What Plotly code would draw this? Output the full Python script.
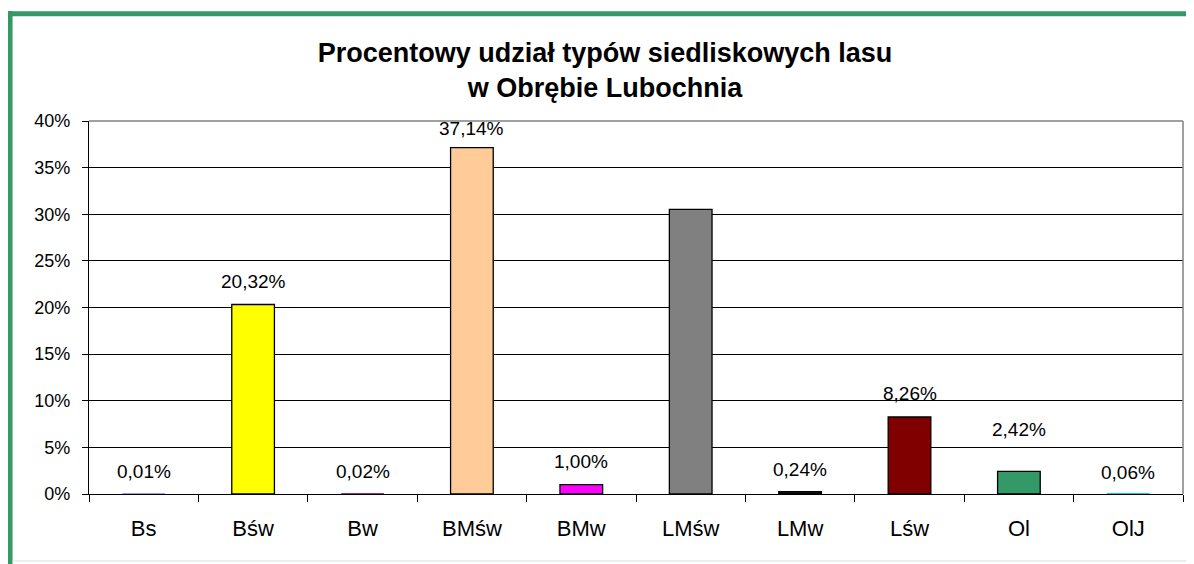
import plotly.graph_objects as go

categories = ["Bs", "Bśw", "Bw", "BMśw", "BMw", "LMśw", "LMw", "Lśw", "Ol", "OlJ"]
values = [0.01, 20.32, 0.02, 37.14, 1.00, 30.53, 0.24, 8.26, 2.42, 0.06]
labels = ["0,01%", "20,32%", "0,02%", "37,14%", "1,00%", "", "0,24%", "8,26%", "2,42%", "0,06%"]
colors = ["#9999FF", "#FFFF00", "#993366", "#FFCC99", "#FF00FF", "#808080",
          "#1A1A1A", "#800000", "#339966", "#00CCFF"]
outline_widths = [0, 1.3, 0, 1.3, 1.3, 1.3, 1.3, 1.3, 1.3, 0]
label_shift = [22, 23, 22, 19, 23, 22, 22, 23, 42, 21]
yticks = [0, 5, 10, 15, 20, 25, 30, 35, 40]
ytick_text = [f"{v}%" for v in yticks]

OFF = 8  # page body margin
W, H = 1194 - OFF, 564 - OFF
L, R, T, B = 89 - OFF, 1183 - OFF, 121 - OFF, 494 - OFF
FONT = "Liberation Sans, Arial, sans-serif"

fig = go.Figure()
fig.add_trace(go.Bar(
    x=categories, y=values,
    marker=dict(color=colors, line=dict(color="#000000", width=outline_widths)),
    width=0.39, hoverinfo="x+y",
))

for c, v, t, s in zip(categories, values, labels, label_shift):
    if t:
        fig.add_annotation(x=c, y=v, text=t, showarrow=False, yshift=s,
                           xanchor="center", yanchor="middle",
                           font=dict(family=FONT, size=19, color="#000000"))

def px_x(px):
    return (px - OFF - L) / (R - L)

def px_y(py):
    return (B - (py - OFF)) / (B - T)

green = "#339966"
shapes = [
    dict(type="line", xref="paper", yref="paper", x0=px_x(9.8), x1=px_x(9.8),
         y0=px_y(11), y1=px_y(570), line=dict(color=green, width=5.5)),
    dict(type="line", xref="paper", yref="paper", x0=px_x(7), x1=px_x(1200),
         y0=px_y(13.8), y1=px_y(13.8), line=dict(color=green, width=5)),
    dict(type="line", xref="paper", yref="paper", x0=px_x(12.5), x1=px_x(1200),
         y0=px_y(561), y1=px_y(561), line=dict(color="#e3ebe7", width=1.5)),
    dict(type="line", xref="paper", yref="paper", x0=0, x1=1, y0=1, y1=1,
         line=dict(color="#808080", width=1.5)),
    dict(type="line", xref="paper", yref="paper", x0=1, x1=1, y0=0, y1=1,
         line=dict(color="#808080", width=1.5)),
]

fig.update_layout(
    width=W, height=H,
    margin=dict(l=L, r=W - R, t=T, b=H - B),
    paper_bgcolor="#FFFFFF", plot_bgcolor="#FFFFFF",
    showlegend=False,
    font=dict(family=FONT, size=18, color="#000000"),
    title=dict(text="<b>Procentowy udział typów siedliskowych lasu<br>w Obrębie Lubochnia</b>",
               x=px_x(605), xref="paper", xanchor="center",
               y=1 - 54 / H, yref="container", yanchor="middle",
               font=dict(family=FONT, size=27, color="#000000")),
    shapes=shapes,
    xaxis=dict(type="category", showline=True, linecolor="#000000", linewidth=1.3,
               ticks="outside", ticklen=7, tickcolor="#000000", tickwidth=1.3,
               tickson="boundaries", ticklabelstandoff=14,
               showgrid=False, zeroline=False,
               tickfont=dict(family=FONT, size=22, color="#000000")),
    yaxis=dict(range=[0, 40], tickvals=yticks, ticktext=ytick_text,
               showline=True, linecolor="#000000", linewidth=1.3,
               ticks="outside", ticklen=6, tickcolor="#000000", tickwidth=1.3,
               ticklabelstandoff=8,
               showgrid=True, gridcolor="#000000", gridwidth=1.3,
               zeroline=False,
               tickfont=dict(family=FONT, size=18, color="#000000")),
)

fig.write_html("out.html")
